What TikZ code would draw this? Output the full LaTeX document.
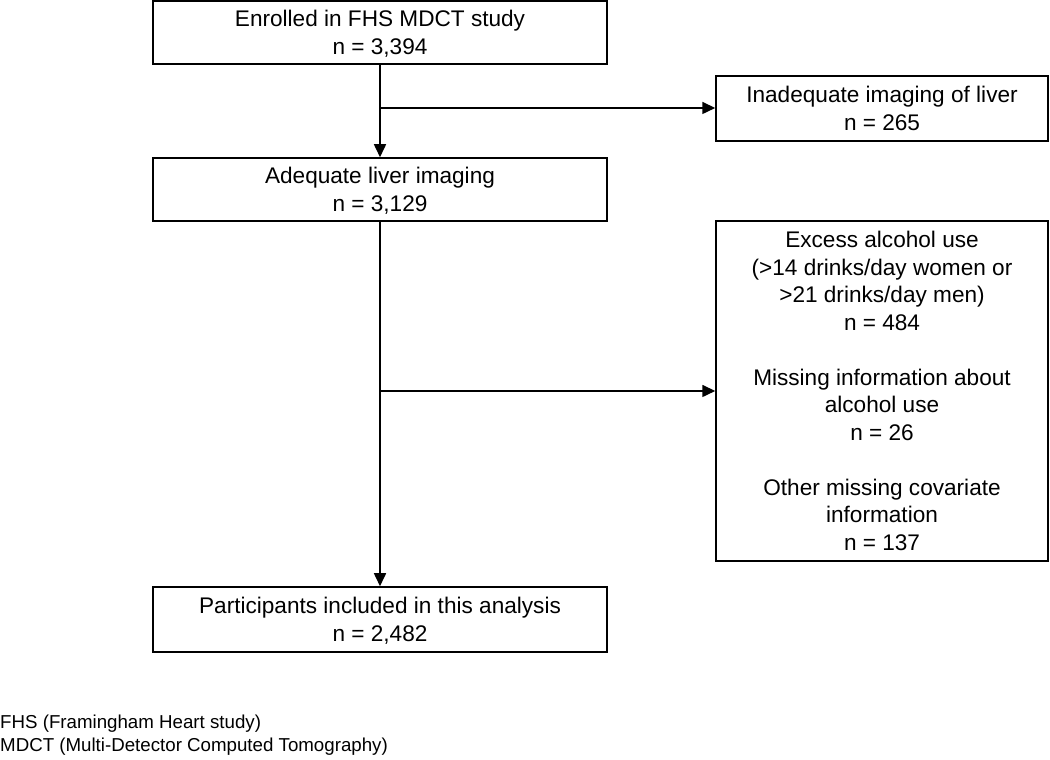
\documentclass[tikz,border=0pt]{standalone}
\usepackage{fontspec}
\setmainfont{Liberation Sans}
\usetikzlibrary{arrows.meta,positioning}

\tikzset{
  flowbox/.style={draw,line width=1.5bp,inner sep=0pt,align=center,
    font=\fontsize{22.6bp}{27.5bp}\selectfont},
  mainbox/.style={flowbox,minimum width=454bp,minimum height=63bp,text depth=0pt},
  sidebox/.style={flowbox,minimum width=332bp},
  flowline/.style={line width=1.6bp},
}

\begin{document}
\begin{tikzpicture}[>={Triangle[length=13bp,width=12bp]},x=1bp,y=1bp]
\useasboundingbox (0,0) rectangle (1050,760);
%%
\node (enrolled) at (380bp,727.5bp) [mainbox] {Enrolled in FHS MDCT study\\n = 3,394};
  \node (inadequate) at (882bp,651.5bp) [sidebox,minimum height=65bp] {Inadequate imaging of liver\\n = 265};
  \node (adequate) at (380bp,570.5bp) [mainbox] {Adequate liver imaging\\n = 3,129};
  \node (excluded) at (882bp,369bp) [sidebox,minimum height=340bp] {Excess alcohol use\\(>14 drinks/day women or\\>21 drinks/day men)\\n = 484\\[27.5bp]Missing information about\\alcohol use\\n = 26\\[27.5bp]Other missing covariate\\information\\n = 137};
  \node (included) at (380bp,140.5bp) [mainbox,minimum height=65bp] {Participants included in this analysis\\n = 2,482};
  \node (abbrev) at (0bp,25bp) [anchor=west,inner sep=0pt,align=left,font=\fontsize{18.7bp}{22.5bp}\selectfont] {FHS (Framingham Heart study)\\MDCT (Multi-Detector Computed Tomography)};
  \coordinate (split1) at (380bp,652bp);
  \coordinate (split2) at (380bp,369bp);
  \draw [flowline,->] (enrolled) -- (adequate);
  \draw [flowline,->] (split1) -- (split1 -| inadequate.west);
  \draw [flowline,->] (adequate) -- (included);
  \draw [flowline,->] (split2) -- (split2 -| excluded.west);
%
\end{tikzpicture}
\end{document}
